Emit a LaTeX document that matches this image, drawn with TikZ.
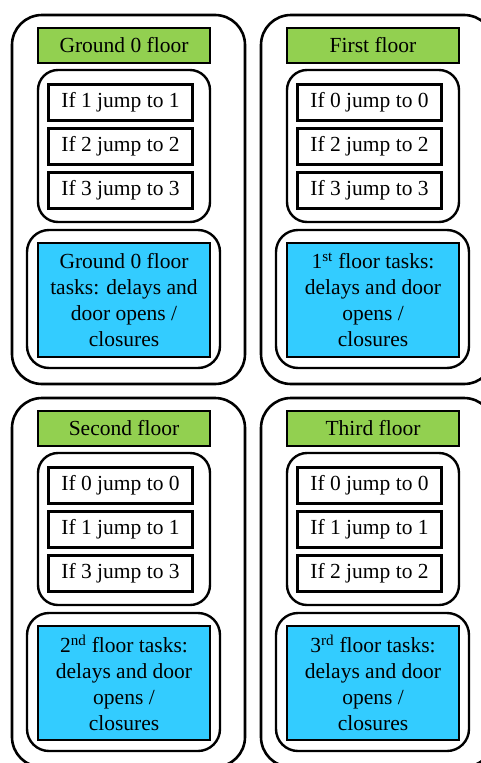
\documentclass[tikz,border=0pt]{standalone}
\usepackage{fontspec}
\setmainfont{Liberation Serif}
\usepackage{tikz}
\usetikzlibrary{positioning}
\definecolor{titlegreen}{RGB}{146,208,80}
\definecolor{taskblue}{RGB}{51,204,255}

\begin{document}
\begin{tikzpicture}[x=1pt,y=1pt,font=\fontsize{21.5}{26}\selectfont]
\tikzstyle{floorbox} = [draw, rounded corners=30pt, line width=2.6pt, minimum width=233pt, minimum height=369pt, inner sep=0pt]
\tikzstyle{title} = [draw, fill=titlegreen, line width=2pt, minimum width=172pt, minimum height=35pt, inner sep=0pt]
\tikzstyle{jumpgroup} = [draw, rounded corners=20pt, line width=2.4pt, minimum width=172pt, minimum height=152pt, inner sep=0pt]
\tikzstyle{jump} = [draw, line width=2.2pt, minimum width=144pt, minimum height=36pt, inner sep=0pt]
\tikzstyle{taskgroup} = [draw, rounded corners=22pt, line width=2.4pt, minimum width=193pt, minimum height=138pt, inner sep=0pt]
\tikzstyle{tasks} = [draw, fill=taskblue, line width=2.2pt, minimum width=172pt, minimum height=114pt, inner sep=0pt, align=center]

\useasboundingbox (0,0) rectangle (481,-763);
\clip (0,0) rectangle (481,-763);

% Ground floor
\node [floorbox] at (128.5,-199.5) (G) {};
\node [title] at (124,-45.5) (Gt) {Ground 0 floor};
\node [jumpgroup, below of=Gt, node distance=100.5pt] (Gjg) {};
\node [jump, below of=Gt, node distance=57pt, xshift=-3.5pt] (Gj1) {If 1 jump to 1};
\node [jump, below of=Gj1, node distance=44pt] (Gj2) {If 2 jump to 2};
\node [jump, below of=Gj2, node distance=44pt] (Gj3) {If 3 jump to 3};
\node [tasks, below of=Gt, node distance=254.5pt] (Gtk) {Ground 0 floor\\tasks: delays and\\door opens /\\closures};
\node [taskgroup, below of=Gtk, node distance=-1pt, xshift=-0.5pt] (Gtg) {};

% First floor
\node [floorbox] at (377.5,-199.5) (F) {};
\node [title] at (373,-45.5) (Ft) {First floor};
\node [jumpgroup, below of=Ft, node distance=100.5pt] (Fjg) {};
\node [jump, below of=Ft, node distance=57pt, xshift=-3.5pt] (Fj1) {If 0 jump to 0};
\node [jump, below of=Fj1, node distance=44pt] (Fj2) {If 2 jump to 2};
\node [jump, below of=Fj2, node distance=44pt] (Fj3) {If 3 jump to 3};
\node [tasks, below of=Ft, node distance=254.5pt] (Ftk) {1\textsuperscript{st} floor tasks:\\delays and door\\opens /\\closures};
\node [taskgroup, below of=Ftk, node distance=-1pt, xshift=-0.5pt] (Ftg) {};

% Second floor
\node [floorbox] at (128.5,-582.5) (S) {};
\node [title] at (124,-428.5) (St) {Second floor};
\node [jumpgroup, below of=St, node distance=100.5pt] (Sjg) {};
\node [jump, below of=St, node distance=57pt, xshift=-3.5pt] (Sj1) {If 0 jump to 0};
\node [jump, below of=Sj1, node distance=44pt] (Sj2) {If 1 jump to 1};
\node [jump, below of=Sj2, node distance=44pt] (Sj3) {If 3 jump to 3};
\node [tasks, below of=St, node distance=254.5pt] (Stk) {2\textsuperscript{nd} floor tasks:\\delays and door\\opens /\\closures};
\node [taskgroup, below of=Stk, node distance=-1pt, xshift=-0.5pt] (Stg) {};

% Third floor
\node [floorbox] at (377.5,-582.5) (T) {};
\node [title] at (373,-428.5) (Tt) {Third floor};
\node [jumpgroup, below of=Tt, node distance=100.5pt] (Tjg) {};
\node [jump, below of=Tt, node distance=57pt, xshift=-3.5pt] (Tj1) {If 0 jump to 0};
\node [jump, below of=Tj1, node distance=44pt] (Tj2) {If 1 jump to 1};
\node [jump, below of=Tj2, node distance=44pt] (Tj3) {If 2 jump to 2};
\node [tasks, below of=Tt, node distance=254.5pt] (Ttk) {3\textsuperscript{rd} floor tasks:\\delays and door\\opens /\\closures};
\node [taskgroup, below of=Ttk, node distance=-1pt, xshift=-0.5pt] (Ttg) {};

\end{tikzpicture}
\end{document}
